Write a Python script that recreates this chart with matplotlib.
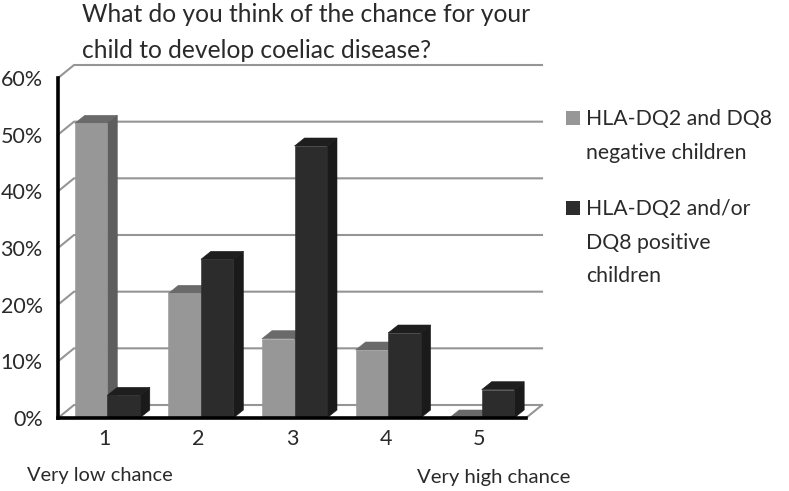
#!/usr/bin/env python3
import matplotlib
matplotlib.use("Agg")
import matplotlib.pyplot as plt
from matplotlib.patches import Polygon, Rectangle

categories = ["1", "2", "3", "4", "5"]
negative = [52, 22, 14, 12, 0]
positive = [4, 28, 48, 15, 5]
y_ticks = [0, 10, 20, 30, 40, 50, 60]
title = "What do you think of the chance for your\nchild to develop coeliac disease?"
low_label = "Very low chance"
high_label = "Very high chance"
neg_label = "HLA-DQ2 and DQ8\nnegative children"
pos_label = "HLA-DQ2 and/or\nDQ8 positive\nchildren"

W, H = 789, 491
FONT = "Lato"
TEXT = "#2a2a2a"
GRID = "#959595"

plt.rcParams["font.family"] = [FONT, "DejaVu Sans"]
fig = plt.figure(figsize=(W / 100, H / 100), dpi=100)
ax = fig.add_axes([58 / W, 1 - 418 / H, 468 / W, 340 / H])
ax.set_xlim(0.5, 5.5)
ax.set_ylim(0, 60)

# pixels to data units for the fake 3d depth
px_x = 5 / 468
px_y = 60 / 340
wall_dx, wall_dy = 16 * px_x, 13 * px_y
bar_dx, bar_dy = 10 * px_x, 8 * px_y
bar_w = 32.5 * px_x
shift = 2.5 * px_x


def poly(pts, color, z):
    ax.add_patch(Polygon(pts, closed=True, facecolor=color, edgecolor=color,
                         linewidth=0.4, zorder=z, clip_on=False))


def bar(x, v, front, top, side, z):
    poly([(x, v), (x + bar_dx, v + bar_dy), (x + bar_w + bar_dx, v + bar_dy), (x + bar_w, v)], top, z)
    poly([(x + bar_w, 0), (x + bar_w + bar_dx, bar_dy), (x + bar_w + bar_dx, v + bar_dy), (x + bar_w, v)], side, z)
    if v > 0:
        ax.add_patch(Rectangle((x, 0), bar_w, v, facecolor=front, edgecolor=front,
                               linewidth=0.4, zorder=z, clip_on=False))


# back wall lines and the diagonals going to the axis
for t in y_ticks:
    ax.plot([0.5, 0.5 + wall_dx, 5.5 + wall_dx], [t, t + wall_dy, t + wall_dy],
            color=GRID, lw=1.5, zorder=1, clip_on=False)
ax.plot([5.5, 5.5 + wall_dx], [0, wall_dy], color=GRID, lw=1.5, zorder=1, clip_on=False)

for i in range(len(categories)):
    left = i + 1 - bar_w + shift
    bar(left, negative[i], "#979797", "#6a6a6a", "#5e5e5e", 3 + i * 2)
    bar(left + bar_w, positive[i], "#2c2c2c", "#1e1e1e", "#1a1a1a", 4 + i * 2)

for s in ["top", "right"]:
    ax.spines[s].set_visible(False)
for s in ["left", "bottom"]:
    ax.spines[s].set_linewidth(2.6)
    ax.spines[s].set_color("black")
    ax.spines[s].set_zorder(20)

ax.set_xticks(range(1, 6))
ax.set_xticklabels(categories)
ax.set_yticks(y_ticks)
ax.set_yticklabels([f"{t}%" for t in y_ticks])
ax.tick_params(length=0, labelsize=15.5, labelcolor=TEXT)
ax.tick_params(axis="x", pad=8)
ax.tick_params(axis="y", pad=11)

fig.text(82 / W, 1 - 3 / H, title, fontsize=17.7, color=TEXT, va="top", ha="left", linespacing=1.66)
fig.text(27 / W, 1 - 475 / H, low_label, fontsize=14.4, color=TEXT, va="center")
fig.text(417 / W, 1 - 477 / H, high_label, fontsize=14.6, color=TEXT, va="center")

# legend
fig.add_artist(Rectangle((566 / W, 1 - 125 / H), 14 / W, 14 / H, transform=fig.transFigure, facecolor="#979797"))
fig.add_artist(Rectangle((566 / W, 1 - 215 / H), 14 / W, 14 / H, transform=fig.transFigure, facecolor="#2c2c2c"))
fig.text(586 / W, 1 - 109 / H, neg_label, fontsize=15.3, color=TEXT, va="top", linespacing=1.85)
fig.text(586 / W, 1 - 199 / H, pos_label, fontsize=15.3, color=TEXT, va="top", linespacing=1.85)

fig.savefig("out.png", dpi=100)
